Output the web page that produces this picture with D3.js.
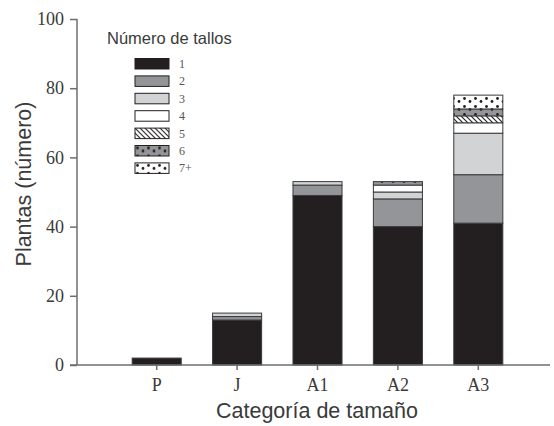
<!DOCTYPE html>
<html>
<head>
<meta charset="utf-8">
<script src="https://cdn.jsdelivr.net/npm/d3@7"></script>
<style>
  html, body { margin: 0; padding: 0; background: #fff; }
  svg { display: block; }
</style>
</head>
<body>
<svg id="chart" width="554" height="426"></svg>
<script>
// Size categories and number-of-stems classes
const categories = ["P", "J", "A1", "A2", "A3"];
const stemClasses = ["1", "2", "3", "4", "5", "6", "7+"];

// Plants per size category, one array per stem class
const stems1 = [2, 13, 49, 40, 41];
const stems2 = [0, 1, 3, 8, 14];
const stems3 = [0, 1, 1, 2, 12];
const stems4 = [0, 0, 0, 2, 3];
const stems5 = [0, 0, 0, 0, 2];
const stems6 = [0, 0, 0, 1, 2];
const stems7 = [0, 0, 0, 0, 4];

const yTicks = [0, 20, 40, 60, 80, 100];

const seriesByClass = [stems1, stems2, stems3, stems4, stems5, stems6, stems7];
const rows = categories.map((c, i) => {
  const r = { cat: c };
  stemClasses.forEach((k, j) => { r[k] = seriesByClass[j][i]; });
  return r;
});

const svg = d3.select("#chart");

// Patterns for classes 5, 6 and 7+
const defs = svg.append("defs");
const hatch = defs.append("pattern").attr("id", "hatch")
  .attr("patternUnits", "userSpaceOnUse").attr("width", 5).attr("height", 5);
hatch.append("rect").attr("width", 5).attr("height", 5).attr("fill", "#fff");
hatch.append("path").attr("d", "M0,0L5,5M-1,4L1,6M4,-1L6,1")
  .attr("stroke", "#231f20").attr("stroke-width", 1.1);

function dots(id, bg) {
  const p = defs.append("pattern").attr("id", id)
    .attr("patternUnits", "userSpaceOnUse").attr("width", 11).attr("height", 8);
  p.append("rect").attr("width", 11).attr("height", 8).attr("fill", bg);
  p.append("circle").attr("cx", 2.5).attr("cy", 2.5).attr("r", 1.4).attr("fill", "#231f20");
  p.append("circle").attr("cx", 8).attr("cy", 5.5).attr("r", 1.4).attr("fill", "#231f20");
}
dots("dotsGray", "#939598");
dots("dotsWhite", "#ffffff");

const fills = {
  "1": "#231f20",
  "2": "#939598",
  "3": "#d1d3d4",
  "4": "#ffffff",
  "5": "url(#hatch)",
  "6": "url(#dotsGray)",
  "7+": "url(#dotsWhite)"
};

const x = d3.scaleBand().domain(categories).range([116.5, 518.5]).paddingInner(0.39).paddingOuter(0.195);
const y = d3.scaleLinear().domain([0, 100]).range([365, 19]);

const axisColor = "#6d6e71";
const textColor = "#3a3a3a";
const sans = "'Liberation Sans', Arial, sans-serif";
const serif = "'Liberation Serif', serif";

// Stacked bars
const stacked = d3.stack().keys(stemClasses)(rows);
svg.append("g").selectAll("g").data(stacked).join("g")
  .attr("fill", d => fills[d.key])
  .selectAll("rect").data(d => d.filter(s => s[1] - s[0] > 0)).join("rect")
  .attr("x", d => x(d.data.cat))
  .attr("width", x.bandwidth())
  .attr("y", d => y(d[1]))
  .attr("height", d => y(d[0]) - y(d[1]))
  .attr("stroke", "#3a3a3c")
  .attr("stroke-width", 1);

// Y axis
const yAxis = svg.append("g").attr("transform", "translate(77,0)")
  .call(d3.axisLeft(y).tickValues(yTicks).tickSize(7).tickPadding(6));
yAxis.select(".domain").attr("stroke", axisColor).attr("stroke-width", 1.5).attr("d", "M0,19V365");
yAxis.selectAll(".tick line").attr("stroke", axisColor).attr("stroke-width", 1.5);
yAxis.selectAll(".tick text")
  .attr("fill", textColor).attr("font-family", serif).attr("font-size", 18);

// X axis
const xAxis = svg.append("g").attr("transform", "translate(0,365)")
  .call(d3.axisBottom(x).tickSize(5).tickPadding(8));
xAxis.select(".domain").attr("stroke", axisColor).attr("stroke-width", 1.5).attr("d", "M70,0H550");
xAxis.selectAll(".tick line").attr("stroke", axisColor).attr("stroke-width", 1.5);
xAxis.selectAll(".tick text")
  .attr("fill", textColor).attr("font-family", serif).attr("font-size", 18);

// Axis titles
svg.append("text")
  .attr("transform", "translate(31,184) rotate(-90)")
  .attr("text-anchor", "middle")
  .attr("fill", textColor)
  .attr("font-family", sans)
  .attr("font-size", 21.5)
  .text("Plantas (número)");

svg.append("text")
  .attr("x", 317).attr("y", 418)
  .attr("text-anchor", "middle")
  .attr("fill", textColor)
  .attr("font-family", sans)
  .attr("font-size", 21.5)
  .text("Categoría de tamaño");

// Legend
const legend = svg.append("g");
legend.append("text")
  .attr("x", 107).attr("y", 44)
  .attr("fill", textColor)
  .attr("font-family", sans)
  .attr("font-size", 16.5)
  .text("Número de tallos");

const item = legend.selectAll("g.item").data(stemClasses).join("g")
  .attr("class", "item")
  .attr("transform", (d, i) => `translate(135,${58.5 + i * 17.4})`);
item.append("rect")
  .attr("width", 34).attr("height", 10.5)
  .attr("fill", d => fills[d])
  .attr("stroke", "#231f20").attr("stroke-width", 1);
item.append("text")
  .attr("x", 44).attr("y", 9.5)
  .attr("fill", "#555")
  .attr("font-family", serif)
  .attr("font-size", 12)
  .text(d => d);
</script>
</body>
</html>
